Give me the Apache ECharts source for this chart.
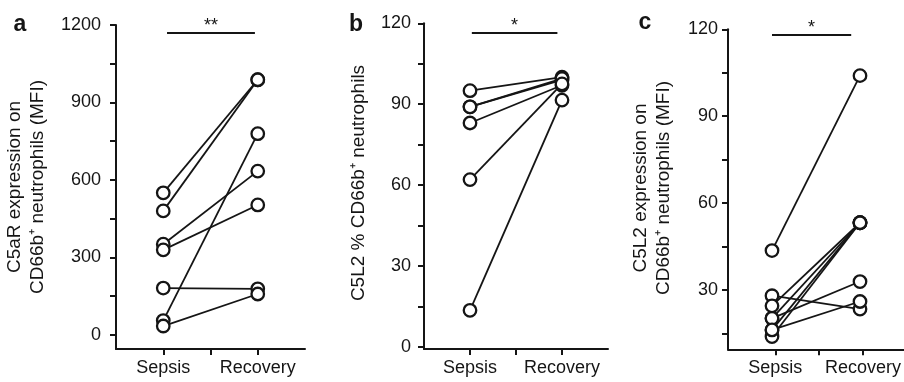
<!DOCTYPE html>
<html>
<head>
<meta charset="utf-8">
<script src="https://cdn.jsdelivr.net/npm/echarts@6/dist/echarts.min.js"></script>
<style>
html,body{margin:0;padding:0;background:#fff;}
#chart{width:904px;height:382px;}
</style>
</head>
<body>
<div id="chart"></div>
<script>
// ---- data ----
const categories = ['Sepsis', 'Recovery'];

const aSepsis   = [550, 480, 351, 329, 181, 55, 34];
const aRecovery = [988, 988, 634, 503, 178, 779, 158];
const aYLabels  = [0, 300, 600, 900, 1200];

const bSepsis   = [95, 89, 89, 83, 62, 13.5];
const bRecovery = [100, 99, 99.5, 97, 97.5, 91.5];
const bYLabels  = [0, 30, 60, 90, 120];

const cSepsis   = [43.6, 28, 24.5, 20.2, 16.2, 13.9, 20.2, 16.2];
const cRecovery = [104, 23.4, 53.2, 53.2, 53.2, 53.2, 32.9, 26];
const cYLabels  = [30, 60, 90, 120];

const sigLabels = ['**', '*', '*'];
const sigY = [1169, 116.5, 118];
const sigXStart = [1.04, 1.02, 1.0];
const sigXEnd = [1.97, 1.95, 1.9];

const yTitles = [
  'C5aR expression on\nCD66b\u207A neutrophils (MFI)',
  'C5L2 % CD66b\u207A neutrophils',
  'C5L2 expression on\nCD66b\u207A neutrophils (MFI)'
];
const panelLetters = ['a', 'b', 'c'];

// ---- layout ----
const FONT = 'Liberation Sans, Arial, sans-serif';
const INK = '#151515';
const panels = [
  {sep: aSepsis, rec: aRecovery, labels: aYLabels, min: -55, max: 1200, tickMin: 0, tickMax: 1200, tickStep: 150,
   grid: {left: 116, top: 25, width: 189, height: 324}, labelMargin: 15},
  {sep: bSepsis, rec: bRecovery, labels: bYLabels, min: -0.85, max: 120, tickMin: 0, tickMax: 120, tickStep: 15,
   grid: {left: 424, top: 23.3, width: 184, height: 325.7}, labelMargin: 13},
  {sep: cSepsis, rec: cRecovery, labels: cYLabels, min: 9.5, max: 120, tickMin: 15, tickMax: 120, tickStep: 15,
   grid: {left: 728, top: 29.3, width: 189, height: 320}, labelMargin: 10}
];
const X_MIN = 0.5, X_MAX = 2.5;

const grids = [], xAxes = [], yAxes = [], series = [];
const lineAxis = {show: true, onZero: false, lineStyle: {color: INK, width: 2}};
const tickStyle = {show: true, length: 6, lineStyle: {color: INK, width: 2}};

panels.forEach((p, i) => {
  const g = p.grid;
  // data grid
  const dIdx = grids.length;
  grids.push({left: g.left, top: g.top, width: g.width, height: g.height, containLabel: false});
  xAxes.push({type: 'value', gridIndex: dIdx, min: X_MIN, max: X_MAX, splitLine: {show: false},
    axisLine: lineAxis, axisTick: {show: false}, axisLabel: {show: false}});
  yAxes.push({type: 'value', gridIndex: dIdx, min: p.min, max: p.max, splitLine: {show: false},
    axisLine: lineAxis, axisTick: {show: false}, axisLabel: {show: false}});

  // y tick grid (spans tickMin..tickMax of the same scale)
  const pxPerUnit = g.height / (p.max - p.min);
  const yIdx = grids.length;
  grids.push({left: g.left, top: g.top + (p.max - p.tickMax) * pxPerUnit,
    width: g.width, height: (p.tickMax - p.tickMin) * pxPerUnit, containLabel: false});
  xAxes.push({type: 'value', gridIndex: yIdx, show: false, min: 0, max: 1});
  yAxes.push({type: 'value', gridIndex: yIdx, min: p.tickMin, max: p.tickMax, interval: p.tickStep,
    splitLine: {show: false}, axisLine: {show: false}, axisTick: tickStyle,
    axisLabel: {show: true, margin: p.labelMargin, fontSize: 18, fontFamily: FONT, color: INK,
      formatter: v => p.labels.indexOf(v) >= 0 ? String(v) : ''}});

  // x tick grid (Sepsis..Recovery)
  const xPx = g.width / (X_MAX - X_MIN);
  const xIdx = grids.length;
  grids.push({left: g.left + (1 - X_MIN) * xPx, top: g.top, width: xPx, height: g.height, containLabel: false});
  xAxes.push({type: 'value', gridIndex: xIdx, min: 1, max: 2, interval: 0.5,
    splitLine: {show: false}, axisLine: {show: false}, axisTick: tickStyle,
    axisLabel: {show: true, margin: 10, fontSize: 18, fontFamily: FONT, color: INK,
      showMinLabel: true, showMaxLabel: true,
      formatter: v => (v === 1 || v === 2) ? categories[v - 1] : ''}});
  yAxes.push({type: 'value', gridIndex: xIdx, show: false, min: 0, max: 1});

  // subject lines
  p.sep.forEach((s, k) => {
    series.push({
      type: 'line', xAxisIndex: dIdx, yAxisIndex: dIdx, symbol: 'none', silent: true,
      lineStyle: {color: INK, width: 1.8}, z: 2,
      data: [[1, s], [2, p.rec[k]]]
    });
  });
  const pts = [];
  p.sep.forEach(s => pts.push([1, s]));
  p.rec.forEach(r => pts.push([2, r]));
  series.push({
    type: 'scatter', xAxisIndex: dIdx, yAxisIndex: dIdx, symbol: 'circle', symbolSize: 12.5, silent: true, z: 5,
    itemStyle: {color: '#fff', borderColor: INK, borderWidth: 2.3, opacity: 1},
    data: pts,
    markLine: {
      silent: true, symbol: ['none', 'none'], animation: false,
      lineStyle: {color: INK, width: 1.8, type: 'solid'},
      label: {show: true, position: 'middle', formatter: sigLabels[i], fontSize: 18, fontFamily: FONT, color: INK, distance: -2},
      emphasis: {disabled: true},
      data: [[{coord: [sigXStart[i], sigY[i]]}, {coord: [sigXEnd[i], sigY[i]]}]]
    }
  });
});

const titlePos = [{x: 26.5, y: 187}, {x: 359, y: 183}, {x: 652.5, y: 188}];
const letterPos = [{x: 20, y: 24.5}, {x: 356, y: 25}, {x: 645, y: 23}];
const graphics = [];
yTitles.forEach((t, i) => {
  graphics.push({
    type: 'text', x: titlePos[i].x, y: titlePos[i].y, rotation: Math.PI / 2, silent: true,
    style: {text: t, fill: INK, font: '19px ' + FONT, align: 'center', verticalAlign: 'middle', lineHeight: 23}
  });
});
panelLetters.forEach((t, i) => {
  graphics.push({
    type: 'text', x: letterPos[i].x, y: letterPos[i].y, silent: true,
    style: {text: t, fill: INK, font: 'bold 23px ' + FONT, align: 'center', verticalAlign: 'middle'}
  });
});

const chart = echarts.init(document.getElementById('chart'), null, {renderer: 'canvas'});
chart.setOption({
  animation: false,
  backgroundColor: '#fff',
  grid: grids, xAxis: xAxes, yAxis: yAxes, series: series,
  graphic: graphics
});
</script>
</body>
</html>
